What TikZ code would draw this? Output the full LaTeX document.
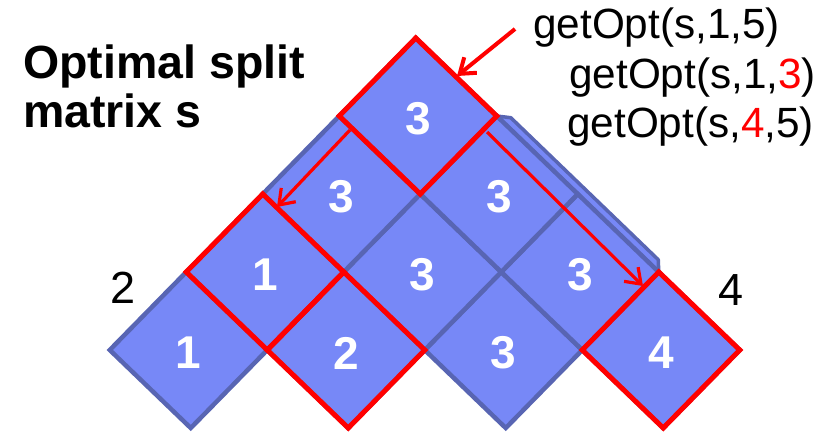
\documentclass[tikz,border=0pt]{standalone}
\usepackage{fontspec}
\setmainfont{Liberation Sans}
\usetikzlibrary{arrows.meta,calc}
\definecolor{cellfill}{RGB}{119,136,247}
\definecolor{celledge}{RGB}{88,101,179}
\definecolor{hired}{RGB}{255,0,0}
\begin{document}
\begin{tikzpicture}[x=1pt,y=-1pt,
  cellbox/.style={fill=cellfill, draw=celledge, line width=4.5pt, line join=miter},
  stripbox/.style={fill=cellfill, draw=celledge, line width=3.5pt, line join=round},
  hiline/.style={draw=hired, line width=5pt, line join=miter},
  num/.style={text=white, font=\bfseries\fontsize{46}{52}\selectfont, inner sep=0pt},
  callarrow/.style={draw=hired, line width=3.2pt, -{Straight Barb[length=14pt,width=20pt]}},
  title/.style={font=\bfseries\fontsize{46.5}{54}\selectfont, inner sep=0pt},
  call/.style={font=\fontsize{42.3}{50}\selectfont, inner sep=0pt},
  lbl/.style={font=\fontsize{45}{52}\selectfont, inner sep=0pt}]
\useasboundingbox (0,0) rectangle (821,431);

% the split matrix as a lattice of diamonds
\begin{scope}[shift={(188.5,350)}, x={(76.5pt,78pt)}, y={(81pt,-78pt)}]
  % thin strip along the right outer edge
  \path[stripbox] (3.5,0.5) -- (3.578,0.6) -- (3.578,2.42) -- (3.5,2.5) -- cycle;
  \foreach \a/\b/\v in {0/0/1,1/1/2,2/2/3,3/3/4,1/0/1,2/1/3,3/2/3,2/0/3,3/1/3,3/0/3} {
    \path[cellbox] (\a-0.5,\b-0.5) -- (\a+0.5,\b-0.5) -- (\a+0.5,\b+0.5) -- (\a-0.5,\b+0.5) -- cycle;
    \node[num, yshift=-3pt] (n\a\b) at (\a,\b) {\v};
  }
  \foreach \a/\b in {3/0,1/0,1/1,3/3} {
    \draw[hiline] (\a-0.5,\b-0.5) -- (\a+0.5,\b-0.5) -- (\a+0.5,\b+0.5) -- (\a-0.5,\b+0.5) -- cycle;
  }
\end{scope}

% texts
\node[title, anchor=base west] (ttl1) at (23,78) {Optimal split};
\node[title, anchor=base west] (ttl2) at (23,127) {matrix s};
\node[call, anchor=base west] (t1) at (533,38) {getOpt(s,1,5)};
\node[call, anchor=base west] (t2) at (569,88) {getOpt(s,1,\textcolor{hired}{3})};
\node[call, anchor=base west] (t3) at (567,137) {getOpt(s,\textcolor{hired}{4},5)};
\node[lbl, anchor=base] (l2) at (123,303) {2};
\node[lbl, anchor=base] (l4) at (731,305) {4};

% arrows
\coordinate (a1s) at (515,29);
\coordinate (a1e) at (457,76);
\coordinate (a2s) at (350,130);
\coordinate (a2e) at (277,207);
\coordinate (a3s) at (487,132);
\coordinate (a3e) at (643,286);
\draw[callarrow, line width=4pt] (a1s) -- (a1e);
\draw[callarrow] (a2s) -- (a2e);
\draw[callarrow] (a3s) -- (a3e);
\end{tikzpicture}
\end{document}
